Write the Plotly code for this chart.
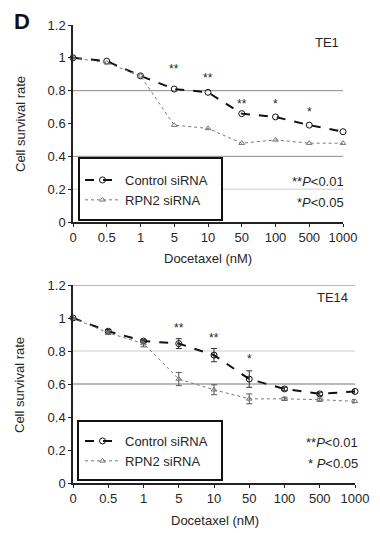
import plotly.graph_objects as go

doses = ["0", "0.5", "1", "5", "10", "50", "100", "500", "1000"]

te1_control = [1.00, 0.98, 0.89, 0.81, 0.79, 0.66, 0.64, 0.59, 0.55]
te1_rpn2 = [1.00, 0.97, 0.89, 0.59, 0.57, 0.48, 0.50, 0.48, 0.48]

te14_control = [1.00, 0.92, 0.86, 0.845, 0.775, 0.63, 0.57, 0.54, 0.555]
te14_control_err = [0, 0.01, 0.01, 0.03, 0.04, 0.05, 0.01, 0.01, 0.01]
te14_rpn2 = [1.00, 0.91, 0.845, 0.63, 0.565, 0.51, 0.51, 0.505, 0.495]
te14_rpn2_err = [0, 0.01, 0.02, 0.04, 0.03, 0.03, 0.01, 0.01, 0.01]

te1_stars = [("5", 0.93, "**"), ("10", 0.88, "**"), ("50", 0.72, "**"), ("100", 0.72, "*"), ("500", 0.67, "*")]
te14_stars = [("5", 0.94, "**"), ("10", 0.88, "**"), ("50", 0.75, "*")]

# the page body adds an 8px margin around the figure
OFF = 8
W, H = 380 - OFF, 533 - OFF
FONT = "Liberation Sans, Arial, sans-serif"
TXT = "#262626"

def px_x(p):
    return (p - OFF) / W

def px_y(p):
    return 1 - (p - OFF) / H

fig = go.Figure()

ctrl_line = dict(color="#111111", width=2, dash="dash")
rpn_line = dict(color="#777777", width=1, dash="dot")

fig.add_trace(go.Scatter(x=doses, y=te1_control, mode="lines+markers", name="Control siRNA",
                         line=ctrl_line, marker=dict(symbol="circle-open", size=6, color="#111111"),
                         xaxis="x", yaxis="y", legend="legend", cliponaxis=False))
fig.add_trace(go.Scatter(x=doses, y=te1_rpn2, mode="lines+markers", name="RPN2 siRNA",
                         line=rpn_line, marker=dict(symbol="triangle-up-open", size=5, color="#777777"),
                         xaxis="x", yaxis="y", legend="legend", cliponaxis=False))

fig.add_trace(go.Scatter(x=doses, y=te14_control, mode="lines+markers", name="Control siRNA",
                         line=ctrl_line, marker=dict(symbol="circle-open", size=6, color="#111111"),
                         error_y=dict(type="data", array=te14_control_err, color="#333333", thickness=1, width=3),
                         xaxis="x2", yaxis="y2", legend="legend2", cliponaxis=False))
fig.add_trace(go.Scatter(x=doses, y=te14_rpn2, mode="lines+markers", name="RPN2 siRNA",
                         line=rpn_line, marker=dict(symbol="triangle-up-open", size=5, color="#777777"),
                         error_y=dict(type="data", array=te14_rpn2_err, color="#555555", thickness=1, width=3),
                         xaxis="x2", yaxis="y2", legend="legend2", cliponaxis=False))

axis_common = dict(showline=True, linecolor="#222222", linewidth=1.5, ticks="outside", ticklen=3,
                   tickcolor="#222222", showgrid=False, zeroline=False, automargin=False,
                   tickfont=dict(family=FONT, size=13, color=TXT))

leg_common = dict(xanchor="left", yanchor="middle", borderwidth=0, bgcolor="rgba(0,0,0,0)",
                  font=dict(family=FONT, size=13, color=TXT), itemwidth=35, tracegroupgap=0)

fig.update_layout(
    template="none",
    width=W, height=H, margin=dict(l=0, r=0, t=0, b=0, pad=0, autoexpand=False),
    paper_bgcolor="white", plot_bgcolor="white",
    font=dict(family=FONT, color=TXT),
    xaxis=dict(domain=[px_x(73), px_x(343)], anchor="y", type="category", range=[0, 8], **axis_common),
    yaxis=dict(domain=[px_y(222), px_y(25)], anchor="x", range=[0, 1.2], dtick=0.2, **axis_common),
    xaxis2=dict(domain=[px_x(73), px_x(355)], anchor="y2", type="category", range=[0, 8], **axis_common),
    yaxis2=dict(domain=[px_y(483), px_y(285)], anchor="x2", range=[0, 1.2], dtick=0.2, **axis_common),
    legend=dict(x=px_x(80), y=px_y(190), **leg_common),
    legend2=dict(x=px_x(80), y=px_y(451), **leg_common),
    showlegend=True,
)

# horizontal reference lines
for yv, col in [(0.8, "#888888"), (0.4, "#888888"), (0.2, "#cccccc")]:
    fig.add_shape(type="line", xref="x domain", yref="y", x0=0, x1=1, y0=yv, y1=yv,
                  line=dict(color=col, width=1), layer="below")
for yv, col in [(1.2, "#777777"), (0.6, "#777777"), (0.8, "#cccccc")]:
    fig.add_shape(type="line", xref="x2 domain", yref="y2", x0=0, x1=1, y0=yv, y1=yv,
                  line=dict(color=col, width=1), layer="below")

# legend frames
for (x0, y0, x1, y1) in [(79, 158, 222, 220), (78, 421, 222, 480)]:
    fig.add_shape(type="rect", xref="paper", yref="paper", x0=px_x(x0), x1=px_x(x1), y0=px_y(y1), y1=px_y(y0),
                  line=dict(color="#111111", width=2), fillcolor="white", layer="below")

ann = []
for x, y, s in te1_stars:
    ann.append(dict(x=doses.index(x), y=y, xref="x", yref="y", text=s, showarrow=False,
                    xanchor="center", yanchor="middle", font=dict(size=12, color=TXT)))
for x, y, s in te14_stars:
    ann.append(dict(x=doses.index(x), y=y, xref="x2", yref="y2", text=s, showarrow=False,
                    xanchor="center", yanchor="middle", font=dict(size=12, color=TXT)))

def label(x, y, text, size=13, xanchor="center", angle=0, color=TXT):
    return dict(x=px_x(x), y=px_y(y), xref="paper", yref="paper", text=text, showarrow=False,
                xanchor=xanchor, yanchor="middle", textangle=angle, font=dict(size=size, color=color))

ann += [
    label(22, 22, "<b>D</b>", size=22, color="#111111"),
    label(341, 42, "TE1", xanchor="right"),
    label(350, 297, "TE14", xanchor="right"),
    label(346, 181, "**<i>P</i>&lt;0.01", xanchor="right"),
    label(346, 202, "*<i>P</i>&lt;0.05", xanchor="right"),
    label(360, 442, "**<i>P</i>&lt;0.01", xanchor="right"),
    label(360, 463, "* <i>P</i>&lt;0.05", xanchor="right"),
    label(20, 124, "Cell survival rate", angle=-90),
    label(19, 385, "Cell survival rate", angle=-90),
    label(208, 258, "Docetaxel (nM)"),
    label(215, 520, "Docetaxel (nM)"),
]
fig.update_layout(annotations=ann)

fig.write_html("out.html")
